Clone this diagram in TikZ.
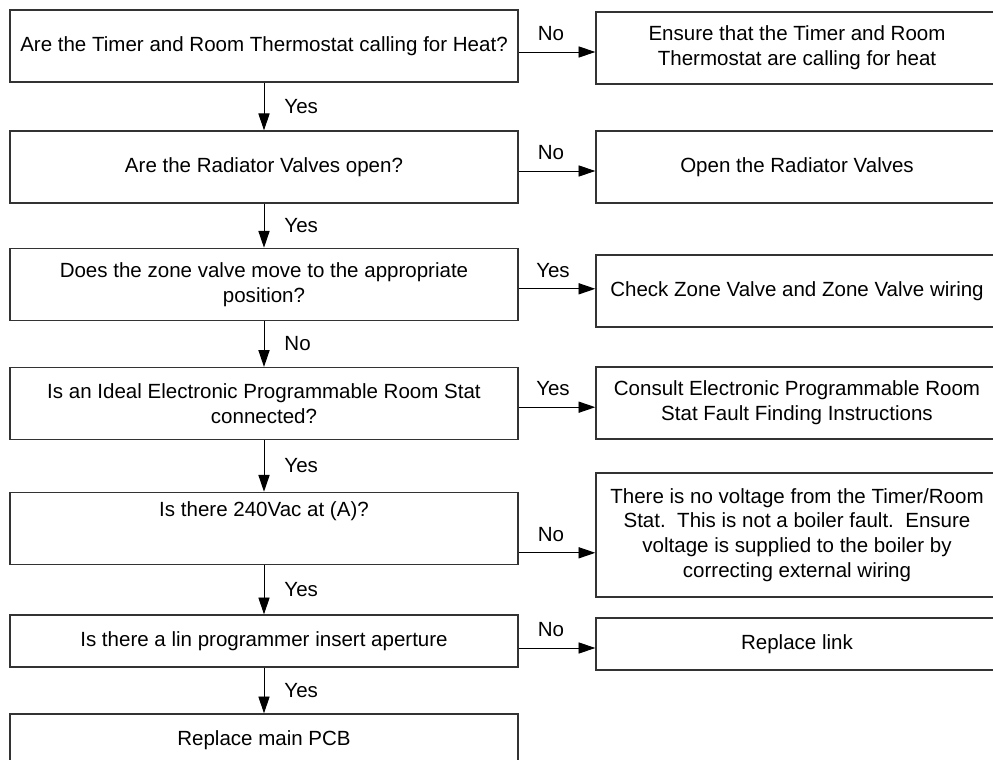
\documentclass[tikz,border=0pt]{standalone}
\usepackage{fontspec}
\setmainfont{Liberation Sans}
\usetikzlibrary{calc,arrows.meta,positioning}
\definecolor{boxLine}{RGB}{51,51,51}

\begin{document}
\begin{tikzpicture}[x=1cm,y=1cm,
  questionBox/.style={draw=boxLine,line width=1pt,minimum width=12.7cm,minimum height=1.8cm,align=center,inner sep=2pt,font=\fontsize{14.6}{17.6}\selectfont},
  actionBox/.style={questionBox,minimum width=10.05cm},
  flowArrow/.style={line width=0.7pt,-{Triangle[length=0.42cm,width=0.28cm]}},
  branchLabel/.style={font=\fontsize{14.6}{16}\selectfont,inner sep=0pt}]
\path[use as bounding box] (0,0) rectangle (24.825,-19);

\node[questionBox] (q1) at (6.6,-1.15) {Are the Timer and Room Thermostat calling for Heat?};
\node[questionBox] (q2) at (6.6,-4.175) {Are the Radiator Valves open?};
\node[questionBox] (q3) at (6.6,-7.11) {Does the zone valve move to the appropriate\\position?};
\node[questionBox] (q4) at (6.6,-10.09) {Is an Ideal Electronic Programmable Room Stat\\connected?};
\node[questionBox] (q5) at (6.6,-13.21) {Is there 240Vac at (A)?\\[4pt]\strut};
\node[questionBox,minimum height=1.3cm] (q6) at (6.6,-16.025) {Is there a lin programmer insert aperture};
\node[questionBox,minimum height=1.3cm] (q7) at (6.6,-18.5) {Replace main PCB};

\node[actionBox] (a1) at (19.925,-1.2) {Ensure that the Timer and Room\\Thermostat are calling for heat};
\node[actionBox] (a2) at (19.925,-4.175) {Open the Radiator Valves};
\node[actionBox] (a3) at (19.925,-7.275) {Check Zone Valve and Zone Valve wiring};
\node[actionBox] (a4) at (19.925,-10.075) {Consult Electronic Programmable Room\\Stat Fault Finding Instructions};
\node[actionBox,minimum height=3.1cm] (a5) at (19.925,-13.375) {There is no voltage from the Timer/Room\\Stat.\ \ This is not a boiler fault.\ \ Ensure\\voltage is supplied to the boiler by\\correcting external wiring};
\node[actionBox,minimum height=1.3cm] (a6) at (19.925,-16.1) {Replace link};

\draw[flowArrow] (q1) -- (q2) node[branchLabel,midway,anchor=west,xshift=0.5cm] {Yes};
\draw[flowArrow] (q2) -- (q3) node[branchLabel,midway,anchor=west,xshift=0.5cm] {Yes};
\draw[flowArrow] (q3) -- (q4) node[branchLabel,midway,anchor=west,xshift=0.5cm] {No};
\draw[flowArrow] (q4) -- (q5) node[branchLabel,midway,anchor=west,xshift=0.5cm] {Yes};
\draw[flowArrow] (q5) -- (q6) node[branchLabel,midway,anchor=west,xshift=0.5cm] {Yes};
\draw[flowArrow] (q6) -- (q7) node[branchLabel,midway,anchor=west,xshift=0.5cm] {Yes};

\draw[flowArrow] ([yshift=-0.15cm]q1.east) -- ([yshift=-0.15cm]q1.east -| a1.west) node[branchLabel,midway,anchor=base,xshift=-0.15cm,yshift=0.29cm] {No};
\draw[flowArrow] ([yshift=-0.1cm]q2.east) -- ([yshift=-0.1cm]q2.east -| a2.west) node[branchLabel,midway,anchor=base,xshift=-0.15cm,yshift=0.29cm] {No};
\draw[flowArrow] ([yshift=-0.11cm]q3.east) -- ([yshift=-0.11cm]q3.east -| a3.west) node[branchLabel,midway,anchor=base,xshift=-0.1cm,yshift=0.29cm] {Yes};
\draw[flowArrow] ([yshift=-0.09cm]q4.east) -- ([yshift=-0.09cm]q4.east -| a4.west) node[branchLabel,midway,anchor=base,xshift=-0.1cm,yshift=0.29cm] {Yes};
\draw[flowArrow] ([yshift=-0.61cm]q5.east) -- ([yshift=-0.61cm]q5.east -| a5.west) node[branchLabel,midway,anchor=base,xshift=-0.15cm,yshift=0.29cm] {No};
\draw[flowArrow] ([yshift=-0.175cm]q6.east) -- ([yshift=-0.175cm]q6.east -| a6.west) node[branchLabel,midway,anchor=base,xshift=-0.15cm,yshift=0.29cm] {No};
\end{tikzpicture}
\end{document}
